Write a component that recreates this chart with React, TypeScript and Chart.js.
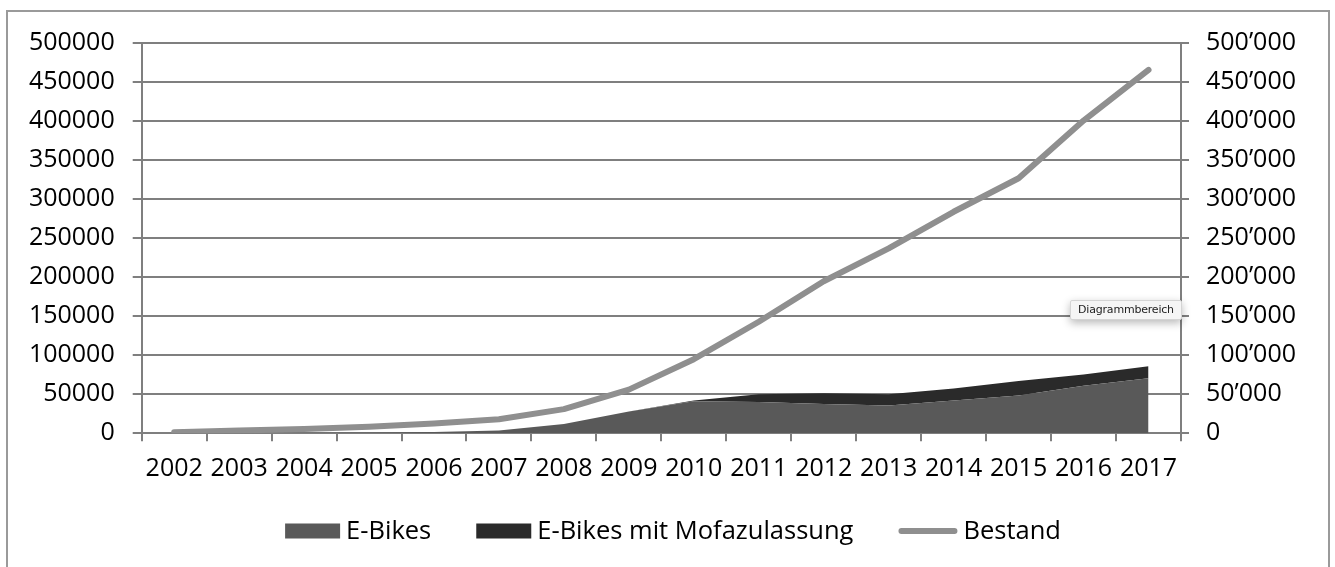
import React, { useEffect, useRef } from 'react';
import { Chart, registerables } from 'chart.js';

Chart.register(...registerables);

// ---- data ----
const years = ['2002', '2003', '2004', '2005', '2006', '2007', '2008', '2009', '2010', '2011', '2012', '2013', '2014', '2015', '2016', '2017'];
const eBikes = [200, 400, 700, 1100, 1800, 3500, 12000, 28000, 41000, 40000, 37500, 35500, 42000, 48500, 61000, 70500];
const eBikesMofa = [0, 0, 0, 0, 0, 0, 0, 0, 1000, 10000, 14000, 14500, 15500, 18500, 14500, 15500];
const bestand = [1500, 3500, 5500, 8500, 12500, 18000, 31000, 56000, 95000, 143000, 195000, 237000, 284000, 327000, 401000, 466000];
const seriesLabels = ['E-Bikes', 'E-Bikes mit Mofazulassung', 'Bestand'];
const yMax = 500000;
const yStep = 50000;
const overlayText = 'Diagrammbereich';

// ---- styles ----
const FONT = '"Open Sans", "DejaVu Sans", sans-serif';
const GRID = '#7f7f7f';
const C_EBIKES = '#595959';
const C_MOFA = '#2a2a2a';
const C_BESTAND = '#8f8f8f';

const formatApos = (v: number) => String(v).replace(/\B(?=(\d{3})+(?!\d))/g, '\u2019');
const formatPlain = (v: number) => String(v);

const legendPlugin = {
  id: 'customLegend',
  afterDraw(chart: any) {
    const ctx = chart.ctx as CanvasRenderingContext2D;
    ctx.save();
    ctx.font = `25.5px ${FONT}`;
    ctx.textBaseline = 'middle';
    ctx.textAlign = 'left';
    const ds = chart.data.datasets;
    const symW = [55, 55, 59];
    const gap = 6;
    const itemGap = 45;
    const widths = ds.map((d: any, i: number) => symW[i] + gap + ctx.measureText(d.label).width);
    const total = widths.reduce((a: number, b: number) => a + b, 0) + itemGap * (ds.length - 1);
    let x = chart.width / 2 + 5.5 - total / 2;
    const y = 531;
    ds.forEach((d: any, i: number) => {
      if (d.yAxisID === 'y1') {
        ctx.strokeStyle = d.borderColor;
        ctx.lineWidth = 6;
        ctx.lineCap = 'round';
        ctx.beginPath();
        ctx.moveTo(x + 3, y);
        ctx.lineTo(x + symW[i] - 3, y);
        ctx.stroke();
      } else {
        ctx.fillStyle = d.backgroundColor;
        ctx.fillRect(x, y - 7.5, symW[i], 15);
      }
      ctx.fillStyle = '#000';
      ctx.fillText(d.label, x + symW[i] + gap, y + 1);
      x += widths[i] + itemGap;
    });
    ctx.restore();
  },
};

export default function App() {
  const canvasRef = useRef<HTMLCanvasElement | null>(null);

  useEffect(() => {
    const canvas = canvasRef.current;
    if (!canvas) return;
    Chart.defaults.font.family = FONT;
    const chart = new Chart(canvas, {
      type: 'line',
      data: {
        labels: years,
        datasets: [
          {
            label: seriesLabels[0],
            data: eBikes,
            yAxisID: 'y',
            backgroundColor: C_EBIKES,
            borderColor: C_EBIKES,
            borderWidth: 0,
            pointRadius: 0,
            fill: 'origin',
            tension: 0,
            order: 1,
          },
          {
            label: seriesLabels[1],
            data: eBikesMofa,
            yAxisID: 'y',
            backgroundColor: C_MOFA,
            borderColor: C_MOFA,
            borderWidth: 0,
            pointRadius: 0,
            fill: '-1',
            tension: 0,
            order: 1,
          },
          {
            label: seriesLabels[2],
            data: bestand,
            yAxisID: 'y1',
            borderColor: C_BESTAND,
            backgroundColor: C_BESTAND,
            borderWidth: 6,
            pointRadius: 0,
            fill: false,
            tension: 0,
            borderCapStyle: 'round',
            borderJoinStyle: 'round',
            order: 0,
          },
        ],
      },
      options: {
        responsive: false,
        animation: false,
        devicePixelRatio: 1,
        layout: { padding: { top: 43.3, left: 0, right: 0, bottom: 0 } },
        plugins: {
          legend: { display: false },
          tooltip: { enabled: false },
        },
        scales: {
          x: {
            type: 'category',
            offset: true,
            grid: {
              offset: true,
              drawOnChartArea: false,
              drawTicks: true,
              tickLength: 8,
              color: GRID,
              lineWidth: 2,
            },
            border: { display: true, color: GRID, width: 2 },
            ticks: {
              color: '#000',
              font: { size: 25, family: FONT },
              padding: 13,
              maxRotation: 0,
              minRotation: 0,
              autoSkip: false,
            },
            afterFit: (scale: any) => {
              scale.height = 567 - 433.3;
            },
          },
          y: {
            position: 'left',
            stacked: true,
            min: 0,
            max: yMax,
            ticks: {
              stepSize: yStep,
              color: '#000',
              font: { size: 25, family: FONT },
              padding: 18,
              callback: (v: any) => formatPlain(Number(v)),
            },
            grid: {
              color: GRID,
              lineWidth: 2,
              drawTicks: true,
              tickLength: 9,
            },
            border: { display: true, color: GRID, width: 2 },
            afterFit: (scale: any) => {
              scale.width = 141.7;
            },
          },
          y1: {
            position: 'right',
            min: 0,
            max: yMax,
            ticks: {
              stepSize: yStep,
              color: '#000',
              font: { size: 25, family: FONT },
              padding: 17,
              callback: (v: any) => formatApos(Number(v)),
            },
            grid: {
              drawOnChartArea: false,
              color: GRID,
              lineWidth: 2,
              drawTicks: true,
              tickLength: 8,
            },
            border: { display: true, color: GRID, width: 2 },
            afterFit: (scale: any) => {
              scale.width = 1335 - 1181;
            },
          },
        },
      },
      plugins: [legendPlugin],
    } as any);
    return () => chart.destroy();
  }, []);

  return (
    <div style={{ position: 'fixed', left: 0, top: 0, width: 1335, height: 567, overflow: 'hidden', background: '#fff' }}>
      <div
        style={{
          position: 'absolute',
          left: 6,
          top: 10,
          width: 1324,
          height: 600,
          border: '2px solid #9a9a9a',
          boxSizing: 'border-box',
        }}
      />
      <canvas ref={canvasRef} width={1335} height={567} style={{ position: 'absolute', left: 0, top: 0, display: 'block' }} />
      <div
        style={{
          position: 'absolute',
          left: 1070,
          top: 300,
          width: 112,
          height: 20,
          boxSizing: 'border-box',
          background: '#f5f5f5',
          border: '1px solid #d4d4d4',
          borderRadius: 2,
          boxShadow: '0 3px 8px rgba(0,0,0,0.28)',
          fontFamily: '"DejaVu Sans", sans-serif',
          fontSize: 11,
          lineHeight: '18px',
          color: '#222',
          textAlign: 'center',
          whiteSpace: 'nowrap',
          letterSpacing: -0.2,
        }}
      >
        {overlayText}
      </div>
    </div>
  );
}
